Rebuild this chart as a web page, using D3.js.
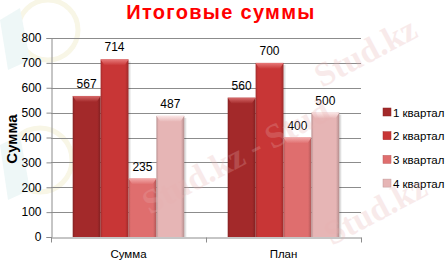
<!DOCTYPE html>
<html>
<head>
<meta charset="utf-8">
<script src="https://cdn.jsdelivr.net/npm/d3@7"></script>
<style>
  body { margin: 0; background: #fff; overflow: hidden; }
  svg { display: block; }
</style>
</head>
<body>
<div id="chart"></div>
<script>
// data
var categories = ["Сумма", "План"];
var series = ["1 квартал", "2 квартал", "3 квартал", "4 квартал"];
var q1 = [567, 560];
var q2 = [714, 700];
var q3 = [235, 400];
var q4 = [487, 500];
var yTicks = [0, 100, 200, 300, 400, 500, 600, 700, 800];

var values = [q1, q2, q3, q4];
var colors = ["#a3292a", "#c83636", "#df6e6e", "#e6b5b5"];
var tops = ["#d76a6a", "#e77a7a", "#f2a9a9", "#fbe6e6"];

// set the dimensions and margins of the graph
var W = 447, H = 260;
var margin = {top: 38, left: 51, right: 86, bottom: 23};
var width = W - margin.left - margin.right,
    height = H - margin.top - margin.bottom;

var svg = d3.select("#chart")
  .append("svg")
    .attr("width", W)
    .attr("height", H);

// faint logo in the background
var bg = svg.append("g").attr("pointer-events", "none");
bg.append("circle").attr("cx", 48).attr("cy", 30).attr("r", 30)
  .attr("fill", "none").attr("stroke", "#f8f6e6").attr("stroke-width", 5);
bg.append("circle").attr("cx", 40).attr("cy", 160).attr("r", 32)
  .attr("fill", "none").attr("stroke", "#f8f6e6").attr("stroke-width", 5);
bg.append("path").attr("d", "M0,20 L20,8 L30,60 L8,70 Z").attr("fill", "#eef7f7");
bg.append("path").attr("d", "M0,145 L20,135 L30,190 L8,200 Z").attr("fill", "#eef7f7");

var g = svg.append("g")
  .attr("transform", "translate(" + margin.left + "," + margin.top + ")");

// scales
var x0 = d3.scaleBand().domain(categories).range([0, width]);
var x1 = d3.scaleBand().domain(series)
  .range([x0.bandwidth() * 0.14, x0.bandwidth() * 0.86]);
var y = d3.scaleLinear().domain([0, 800]).range([height, 0]);

// gridlines
g.append("g")
  .selectAll("line")
  .data(yTicks.slice(1))
  .enter()
  .append("line")
    .attr("x1", 0)
    .attr("x2", width)
    .attr("y1", function(d) { return Math.round(y(d)) + 0.5; })
    .attr("y2", function(d) { return Math.round(y(d)) + 0.5; })
    .attr("stroke", "#8c8c8c")
    .attr("stroke-width", 1);

// Y axis
var yAxis = g.append("g")
  .attr("transform", "translate(0.5,0)")
  .call(d3.axisLeft(y).tickValues(yTicks).tickSize(5).tickPadding(5));
yAxis.select(".domain").attr("stroke", "#8c8c8c");
yAxis.selectAll(".tick line").attr("stroke", "#8c8c8c");
yAxis.selectAll("text")
  .attr("fill", "#000")
  .style("font-family", "'Liberation Sans', Arial, sans-serif")
  .style("font-size", "12px");

// X axis
var xAxis = g.append("g")
  .attr("transform", "translate(0," + (height + 0.5) + ")")
  .call(d3.axisBottom(x0).tickSize(0).tickPadding(12));
xAxis.select(".domain").attr("stroke", "#8c8c8c");
xAxis.selectAll("text")
  .attr("fill", "#000")
  .style("font-family", "'Liberation Sans', Arial, sans-serif")
  .style("font-size", "11.5px");
// category boundary ticks
xAxis.selectAll(".sep")
  .data([0, width / 2, width])
  .enter()
  .append("line")
    .attr("x1", function(d) { return Math.round(d) + 0.5; })
    .attr("x2", function(d) { return Math.round(d) + 0.5; })
    .attr("y1", 0)
    .attr("y2", 5)
    .attr("stroke", "#8c8c8c");

// gradients for bar sides
var defs = svg.append("defs");
colors.forEach(function(c, i) {
  var lg = defs.append("linearGradient")
    .attr("id", "side" + i)
    .attr("x1", 0).attr("x2", 1).attr("y1", 0).attr("y2", 0);
  lg.append("stop").attr("offset", "0%").attr("stop-color", d3.color(c).darker(0.6));
  lg.append("stop").attr("offset", "8%").attr("stop-color", c);
  lg.append("stop").attr("offset", "88%").attr("stop-color", c);
  lg.append("stop").attr("offset", "100%").attr("stop-color", d3.color(c).darker(0.7));
  var tg = defs.append("linearGradient")
    .attr("id", "top" + i)
    .attr("x1", 0).attr("x2", 0).attr("y1", 0).attr("y2", 1);
  tg.append("stop").attr("offset", "0%").attr("stop-color", tops[i]);
  tg.append("stop").attr("offset", "100%").attr("stop-color", c);
});

// bars
var bars = [];
categories.forEach(function(cat, ci) {
  series.forEach(function(s, si) {
    bars.push({cat: cat, s: s, si: si, value: values[si][ci]});
  });
});

var bar = g.selectAll(".bar")
  .data(bars)
  .enter()
  .append("g")
    .attr("class", "bar")
    .attr("transform", function(d) { return "translate(" + (x0(d.cat) + x1(d.s)) + ",0)"; });

var bw = x1.bandwidth();

// shadow
bar.append("rect")
  .attr("x", 2)
  .attr("y", function(d) { return y(d.value) + 2; })
  .attr("width", bw)
  .attr("height", function(d) { return height - y(d.value) - 2; })
  .attr("fill", "#000")
  .attr("opacity", 0.12);

bar.append("rect")
  .attr("x", 0)
  .attr("y", function(d) { return y(d.value); })
  .attr("width", bw)
  .attr("height", function(d) { return height - y(d.value); })
  .attr("fill", function(d) { return "url(#side" + d.si + ")"; });

// top bevel
bar.append("path")
  .attr("d", function(d) {
    var t = y(d.value);
    return "M0," + t + "L" + bw + "," + t + "L" + (bw - 4) + "," + (t + 6) + "L4," + (t + 6) + "Z";
  })
  .attr("fill", function(d) { return "url(#top" + d.si + ")"; });

// value labels
bar.append("text")
  .attr("x", bw / 2)
  .attr("y", function(d) { return y(d.value) - 8; })
  .attr("text-anchor", "middle")
  .style("font-family", "'Liberation Sans', Arial, sans-serif")
  .style("font-size", "12px")
  .style("fill", "#000")
  .text(function(d) { return d.value; });

// title
svg.append("text")
  .attr("x", 221)
  .attr("y", 18.5)
  .attr("text-anchor", "middle")
  .style("font-family", "'Liberation Sans', Arial, sans-serif")
  .style("font-weight", "bold")
  .style("font-size", "20px")
  .style("letter-spacing", "1.3px")
  .style("fill", "#ff0000")
  .text("Итоговые суммы");

// y axis title
svg.append("text")
  .attr("transform", "translate(17," + 139 + ") rotate(-90)")
  .attr("text-anchor", "middle")
  .style("font-family", "'Liberation Sans', Arial, sans-serif")
  .style("font-weight", "bold")
  .style("font-size", "15px")
  .style("fill", "#000")
  .text("Сумма");

// legend
var legend = svg.append("g")
  .selectAll("g")
  .data(series)
  .enter()
  .append("g")
    .attr("transform", function(d, i) { return "translate(383," + (112 + i * 23.7) + ")"; });

legend.append("rect")
  .attr("x", 0)
  .attr("y", -4)
  .attr("width", 8)
  .attr("height", 8)
  .attr("fill", function(d, i) { return colors[i]; })
  .attr("stroke", function(d, i) { return d3.color(colors[i]).darker(0.5); })
  .attr("stroke-width", 0.5);

legend.append("text")
  .attr("x", 10)
  .attr("y", 4.5)
  .style("font-family", "'Liberation Sans', Arial, sans-serif")
  .style("font-size", "11.5px")
  .style("fill", "#000")
  .text(function(d) { return d; });

// watermark, drawn over the chart
var wm = svg.append("g").attr("pointer-events", "none");
[[322, 88, "Stud.kz"], [150, 215, "Stud.kz - Stud"], [332, 246, "Stud.kz"]].forEach(function(p) {
  wm.append("text")
    .attr("transform", "translate(" + p[0] + "," + p[1] + ") rotate(-28)")
    .style("font-family", "'Liberation Serif', serif")
    .style("font-weight", "bold")
    .style("font-size", "34px")
    .style("fill", "#e7b0b0")
    .style("opacity", 0.25)
    .text(p[2]);
});
</script>
</body>
</html>
